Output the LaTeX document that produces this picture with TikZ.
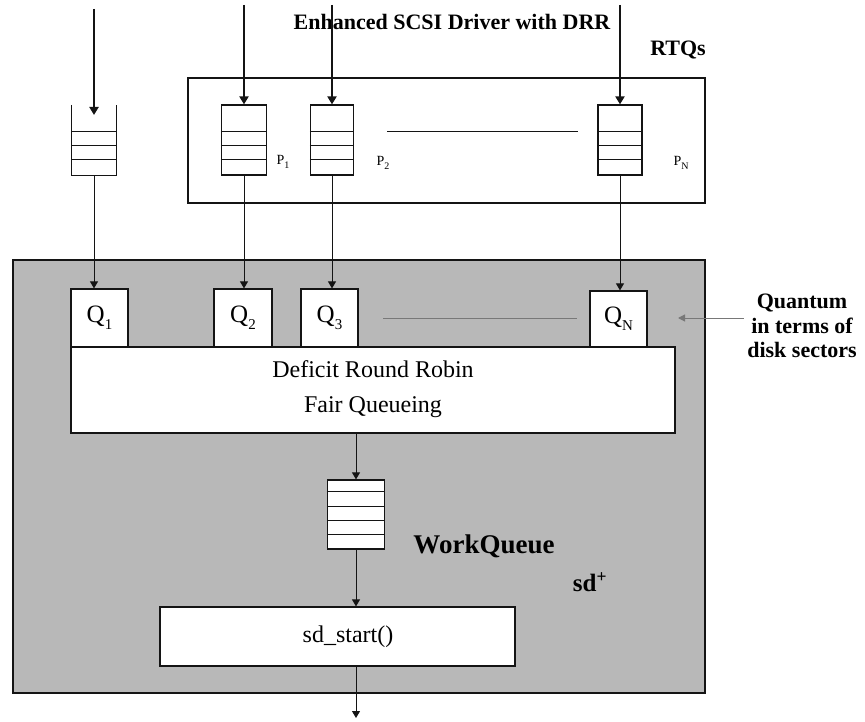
\documentclass[tikz,border=0pt]{standalone}
\usepackage{fontspec}
\setmainfont{Liberation Serif}
\usetikzlibrary{arrows.meta,calc}
\definecolor{ink}{RGB}{20,20,20}
\definecolor{shade}{RGB}{184,184,184}
\definecolor{faint}{RGB}{120,120,120}

\newcommand\sub[1]{\raisebox{-0.28em}{\fontsize{15}{15}\selectfont #1}}
% three slots of a request queue, measured from the top edge
\newcommand\slots[1]{%
  \foreach \d in {27,41,55}{\draw[slotline] ($(#1.north west)+(0,\d)$) -- ($(#1.north east)+(0,\d)$);}}

\begin{document}
\begin{tikzpicture}[x=1pt,y=-1pt,
  box/.style={draw=ink,line width=1.2pt,inner sep=0pt},
  wbox/.style={box,fill=white},
  queue/.style={box,minimum height=70pt},
  slotline/.style={draw=ink,line width=1.2pt},
  feed/.style={draw=ink,line width=2pt,-{Triangle[width=9pt,length=8pt]}},
  link/.style={draw=ink,line width=1pt,-{Triangle[width=8pt,length=7pt]}},
  reg/.style={font=\fontsize{24}{29}\selectfont},
  qlbl/.style={font=\fontsize{25}{29}\selectfont},
  bold/.style={font=\fontsize{22}{24.5}\selectfont\bfseries},
  plbl/.style={font=\fontsize{14}{15}\selectfont}]

\useasboundingbox (0,0) rectangle (865,722);

% shaded driver body
\node[box,fill=shade,minimum width=692pt,minimum height=433pt] (body) at (359,476.5) {};

% real-time queue group
\node[box,minimum width=517pt,minimum height=125pt] (rtq) at (446.5,140.5) {};

\node[bold] (title) at (452,22) {Enhanced SCSI Driver with DRR};
\node[bold] (rtqs) at (678,50) {RTQs};

% request queues
\node[inner sep=0pt,minimum width=45pt,minimum height=70pt] (q0) at (94,140) {};
\draw[slotline] (q0.north west) -- (q0.south west) -- (q0.south east) -- (q0.north east);
\slots{q0}
\node[queue,minimum width=45pt] (p1) at (244,140) {};
\slots{p1}
\node[queue,minimum width=43pt] (p2) at (332,140) {};
\slots{p2}
\node[queue,minimum width=44pt] (pn) at (620,140) {};
\slots{pn}

\node[plbl] (l1) at (283,162) {P\sub{\fontsize{10}{10}\selectfont 1}};
\node[plbl] (l2) at (383,163) {P\sub{\fontsize{10}{10}\selectfont 2}};
\node[plbl] (ln) at (681,163) {P\sub{\fontsize{10}{10}\selectfont N}};

\coordinate (g1) at (387,132);
\coordinate (g2) at (578,132);
\draw[draw=ink,line width=1pt] (g1) -- (g2);

% incoming requests
\coordinate (in0) at (94,9);
\coordinate (cup) at (94,115);
\coordinate (in1) at (244,5);
\coordinate (in2) at (332,5);
\coordinate (inn) at (620,5);
\draw[feed] (in0) -- (cup);
\draw[feed] (in1) -- (p1.north);
\draw[feed] (in2) -- (p2.north);
\draw[feed] (inn) -- (pn.north);

% per-class queues and scheduler
\node[wbox,reg,minimum width=604pt,minimum height=86pt] (drr) at (373,390) {};
\node[reg] (t1) at (373,369) {Deficit Round Robin};
\node[reg] (t2) at (373,407) {Fair Queueing};

\node[wbox,qlbl,minimum width=57pt,minimum height=58pt] (Q1) at (99.5,318) {Q\sub{1}};
\node[wbox,qlbl,minimum width=58pt,minimum height=58pt] (Q2) at (243,318) {Q\sub{2}};
\node[wbox,qlbl,minimum width=57pt,minimum height=58pt] (Q3) at (329.5,318) {Q\sub{3}};
\node[wbox,qlbl,minimum width=57pt,minimum height=56pt] (QN) at (618.5,319) {Q\sub{N}};

\draw[link] (q0.south) -- (q0.south |- Q1.north);
\draw[link] (p1.south) -- (p1.south |- Q2.north);
\draw[link] (p2.south) -- (p2.south |- Q3.north);
\draw[link] (pn.south) -- (pn.south |- QN.north);

\coordinate (d1) at (383,318);
\coordinate (d2) at (577,318);
\draw[draw=faint,line width=0.9pt] (d1) -- (d2);

% quantum input
\node[bold,align=center] (quant) at (802,326) {Quantum\\in terms of\\disk sectors};
\coordinate (qtip) at (678,318);
\draw[draw=faint,line width=1pt,-{Triangle[width=7pt,length=7pt]}] (quant.west |- qtip) -- (qtip);

% work queue and dispatch
\node[wbox,minimum width=57pt,minimum height=69pt] (wq) at (356,514.5) {};
\foreach \d in {12,27,41,55}{\draw[slotline] ($(wq.north west)+(0,\d)$) -- ($(wq.north east)+(0,\d)$);}
\node[font=\fontsize{27}{30}\selectfont\bfseries] (wql) at (484,546) {WorkQueue};

\node[wbox,reg,minimum width=355pt,minimum height=59pt] (sd) at (337.5,636.5) {};
\node[reg] (sdt) at (348,637) {sd\_start()};

\node[font=\fontsize{25}{28}\selectfont\bfseries] (sdp) at (590,582) {sd\textsuperscript{+}};

\draw[link] (wq.north |- drr.south) -- (wq.north);
\draw[link] (wq.south) -- (wq.south |- sd.north);
\coordinate (out) at (356,718);
\draw[link] (wq.south |- sd.south) -- (out);

\end{tikzpicture}
\end{document}
